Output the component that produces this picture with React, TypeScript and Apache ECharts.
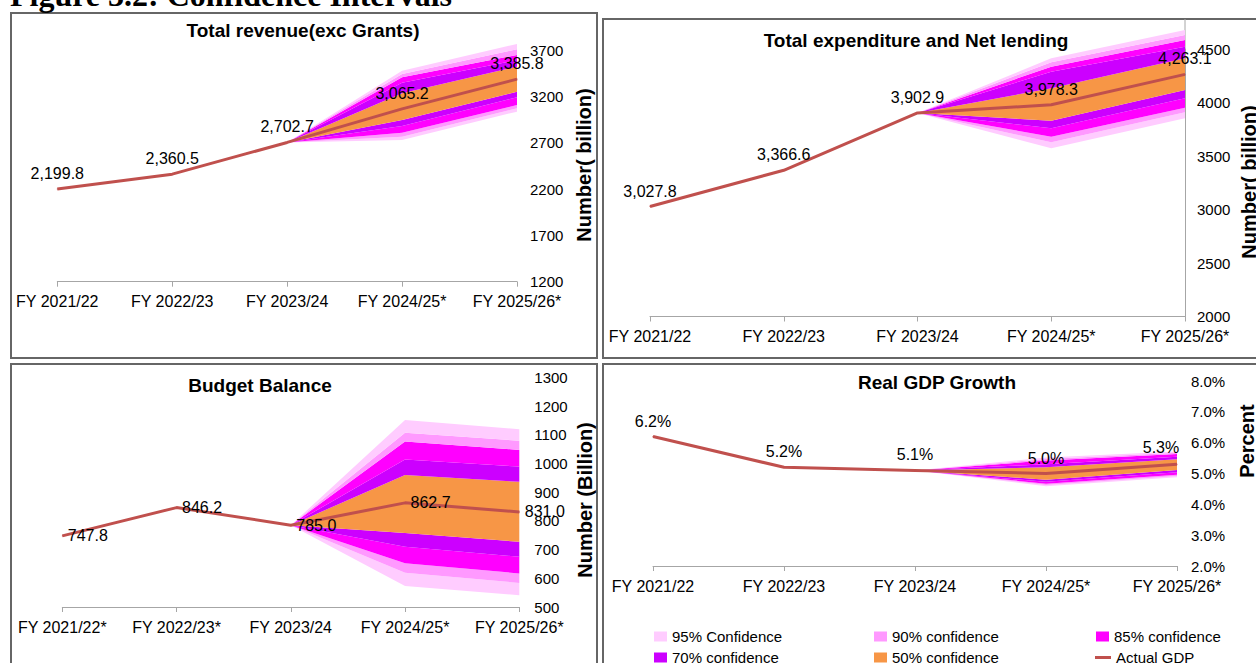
import React, { useEffect, useRef } from "react";
import * as echarts from "echarts";

// ---------- DATA ----------
const categoriesA = ["FY 2021/22", "FY 2022/23", "FY 2023/24", "FY 2024/25*", "FY 2025/26*"];
const categoriesB = ["FY 2021/22*", "FY 2022/23*", "FY 2023/24", "FY 2024/25*", "FY 2025/26*"];

const levelNames = ["95% Confidence", "90% confidence", "85% confidence", "70% confidence", "50% confidence"];
const levelColors = ["#ffccff", "#ff99ff", "#ff00ff", "#cc00ff", "#f79646"];

// Total revenue (exc Grants), billions
const revenueActual = [2199.8, 2360.5, 2702.7, 3065.2, 3385.8];
// lower / upper bounds per forecast year (FY2024/25*, FY2025/26*) for 95, 90, 85, 70, 50 %
const revenueLower = [
  [2729, 2765, 2808, 2880, 2945],
  [3035, 3071, 3107, 3190, 3250],
];
const revenueUpper = [
  [3477, 3441, 3405, 3347, 3233],
  [3765, 3707, 3646, 3592, 3520],
];

// Total expenditure and Net lending, billions
const expenditureActual = [3027.8, 3366.6, 3902.9, 3978.3, 4263.1];
const expenditureLower = [
  [3572, 3628, 3680, 3759, 3830],
  [3852, 3908, 3951, 4039, 4117],
];
const expenditureUpper = [
  [4413, 4376, 4335, 4288, 4133],
  [4678, 4631, 4584, 4522, 4413],
];

// Budget Balance, billions
const balanceActual = [747.8, 846.2, 785.0, 862.7, 831.0];
const balanceLower = [
  [573, 619, 652, 710, 758],
  [541, 584, 617, 675, 727],
];
const balanceUpper = [
  [1151, 1107, 1076, 1014, 960],
  [1119, 1079, 1047, 989, 936],
];

// Real GDP growth, percent
const gdpActual = [6.2, 5.2, 5.1, 5.0, 5.3];
const gdpLower = [
  [4.59, 4.63, 4.67, 4.73, 4.8],
  [4.88, 4.92, 4.96, 5.04, 5.11],
];
const gdpUpper = [
  [5.52, 5.47, 5.42, 5.3, 5.2],
  [5.71, 5.67, 5.63, 5.54, 5.46],
];

// ---------- STYLE ----------
const FONT = "'Liberation Sans', Arial, sans-serif";
const LINE_COLOR = "#c0504d";
const AXIS_GRAY = "#a6a6a6";

function fanSeries(idx: number, actual: number[], lower: number[][], upper: number[][]) {
  const anchor = actual[2];
  const lowAt = (j: number) => [null, null, anchor, lower[0][j], lower[1][j]];
  const upAt = (j: number) => [null, null, anchor, upper[0][j], upper[1][j]];
  const bounds = [lowAt(0), lowAt(1), lowAt(2), lowAt(3), lowAt(4), upAt(4), upAt(3), upAt(2), upAt(1), upAt(0)];
  const colorOrder = [0, 1, 2, 3, 4, 3, 2, 1, 0];
  const out: any[] = [
    {
      type: "line",
      name: "base" + idx,
      xAxisIndex: idx,
      yAxisIndex: idx,
      stack: "fan" + idx,
      stackStrategy: "all",
      data: bounds[0],
      symbol: "none",
      showSymbol: false,
      lineStyle: { width: 0, opacity: 0 },
      silent: true,
      clip: false,
      z: 1,
    },
  ];
  for (let i = 1; i < bounds.length; i++) {
    const c = colorOrder[i - 1];
    const diff = bounds[i].map((v, k) => (v === null ? null : (v as number) - (bounds[i - 1][k] as number)));
    out.push({
      type: "line",
      name: levelNames[c],
      xAxisIndex: idx,
      yAxisIndex: idx,
      stack: "fan" + idx,
      stackStrategy: "all",
      data: diff,
      symbol: "none",
      showSymbol: false,
      lineStyle: { width: 0, color: levelColors[c] },
      itemStyle: { color: levelColors[c] },
      areaStyle: { color: levelColors[c], opacity: 1 },
      silent: true,
      clip: false,
      z: 1,
    });
  }
  return out;
}

function actualSeries(idx: number, name: string, data: any[], label: any) {
  return {
    type: "line",
    name,
    xAxisIndex: idx,
    yAxisIndex: idx,
    data,
    symbol: "circle",
    symbolSize: 1,
    showSymbol: true,
    lineStyle: { color: LINE_COLOR, width: 3 },
    itemStyle: { color: LINE_COLOR },
    label: { show: true, fontSize: 16, color: "#000", fontFamily: FONT, ...label },
    clip: false,
    z: 3,
  };
}

const thousands = (p: any) =>
  Number(p.value).toLocaleString("en-US", { minimumFractionDigits: 1, maximumFractionDigits: 1 });

function xAxis(idx: number, data: string[]) {
  return {
    type: "category",
    gridIndex: idx,
    data,
    boundaryGap: false,
    axisLine: { show: true, onZero: false, lineStyle: { color: AXIS_GRAY, width: 1 } },
    axisTick: { show: true, length: 5, lineStyle: { color: AXIS_GRAY } },
    axisLabel: { interval: 0, fontSize: 16, color: "#000", margin: 12, fontFamily: FONT },
    splitLine: { show: false },
  };
}

const plain = (v: number) => String(v);

function yAxis(idx: number, min: number, max: number, interval: number, margin: number, showLine: boolean, formatter: any = plain) {
  return {
    type: "value",
    gridIndex: idx,
    position: "right",
    min,
    max,
    interval,
    axisLine: { show: showLine, lineStyle: { color: AXIS_GRAY } },
    axisTick: { show: false },
    splitLine: { show: false },
    axisLabel: { fontSize: 15, color: "#000", margin, fontFamily: FONT, formatter },
  };
}

function legendItem(name: string, left: number, top: number, isLine: boolean) {
  return {
    left,
    top,
    padding: 0,
    orient: "horizontal",
    selectedMode: false,
    itemWidth: isLine ? 16 : 13,
    itemHeight: isLine ? 3 : 10,
    itemStyle: { borderWidth: 0 },
    textStyle: { fontSize: 15, color: "#000", fontFamily: FONT },
    data: [{ name, icon: isLine ? "path://M0,0 H16 V3 H0 Z" : "rect" }],
  };
}

function text(t: string, x: number, y: number, font: string, rotation = 0) {
  return {
    type: "text",
    x,
    y,
    rotation,
    style: { text: t, font, fill: "#000", align: "center", verticalAlign: "middle" },
    z: 10,
  };
}

function border(x: number, y: number, w: number, h: number) {
  return {
    type: "rect",
    shape: { x, y, width: w, height: h },
    style: { fill: "none", stroke: "#666", lineWidth: 2 },
    silent: true,
  };
}

export default function App() {
  const ref = useRef<HTMLDivElement>(null);

  useEffect(() => {
    if (!ref.current) return;
    const chart = echarts.init(ref.current, undefined, { renderer: "svg" });

    const gdpData = gdpActual.map((v, i) =>
      i === gdpActual.length - 1 ? { value: v, label: { offset: [-16, -1] } } : v
    );

    const TITLE_FONT = `bold 19px ${FONT}`;
    const NAME_FONT = `bold 20px ${FONT}`;

    const option: any = {
      animation: false,
      backgroundColor: "#ffffff",
      textStyle: { fontFamily: FONT },
      grid: [
        { left: 57.3, top: 50, width: 459.7, height: 231.7 },
        { left: 650, top: 49, width: 535, height: 267.5 },
        { left: 62.3, top: 377.3, width: 457, height: 229.7 },
        { left: 653, top: 381, width: 524, height: 185 },
      ],
      xAxis: [xAxis(0, categoriesA), xAxis(1, categoriesA), xAxis(2, categoriesB), xAxis(3, categoriesA)],
      yAxis: [
        yAxis(0, 1200, 3700, 500, 13, false),
        yAxis(1, 2000, 4500, 500, 12, true),
        yAxis(2, 500, 1300, 100, 15, false),
        yAxis(3, 2, 8, 1, 14, false, (v: number) => v.toFixed(1) + "%"),
      ],
      legend: [
        legendItem(levelNames[0], 654, 629, false),
        legendItem(levelNames[1], 874, 629, false),
        legendItem(levelNames[2], 1096, 629, false),
        legendItem(levelNames[3], 654, 650, false),
        legendItem(levelNames[4], 874, 650, false),
        legendItem("Actual GDP", 1095, 650, true),
      ],
      series: [
        ...fanSeries(0, revenueActual, revenueLower, revenueUpper),
        actualSeries(0, "Total revenue", revenueActual, { position: "top", distance: 7, formatter: thousands }),
        ...fanSeries(1, expenditureActual, expenditureLower, expenditureUpper),
        actualSeries(1, "Total expenditure", expenditureActual, { position: "top", distance: 7, formatter: thousands }),
        ...fanSeries(2, balanceActual, balanceLower, balanceUpper),
        actualSeries(2, "Budget balance", balanceActual, {
          position: "right",
          distance: 5,
          formatter: (p: any) => Number(p.value).toFixed(1),
        }),
        ...fanSeries(3, gdpActual, gdpLower, gdpUpper),
        actualSeries(3, "Actual GDP", gdpData, {
          position: "top",
          distance: 7,
          formatter: (p: any) => Number(p.value).toFixed(1) + "%",
        }),
      ],
      graphic: [
        border(11, 13, 586, 345),
        border(603, 19, 700, 339),
        border(11, 364, 586, 320),
        border(603, 364, 700, 320),
        {
          type: "line",
          shape: { x1: 1185, y1: 19, x2: 1185, y2: 49 },
          style: { stroke: AXIS_GRAY, lineWidth: 1 },
          silent: true,
        },
        {
          type: "text",
          x: 10,
          y: -5,
          style: {
            text: "Figure 3.2: Confidence Intervals",
            font: "bold 32px 'Liberation Serif', 'Times New Roman', serif",
            fill: "#000",
            align: "left",
            verticalAlign: "middle",
          },
          z: 10,
        },
        text("Total revenue(exc Grants)", 303, 30.5, TITLE_FONT),
        text("Total expenditure and Net lending", 916, 40, TITLE_FONT),
        text("Budget Balance", 260, 385, TITLE_FONT),
        text("Real GDP Growth", 937, 382, TITLE_FONT),
        text("Number( billion)", 583.5, 165, NAME_FONT, Math.PI / 2),
        text("Number( billion)", 1249, 182, NAME_FONT, Math.PI / 2),
        text("Number (Billion)", 585, 500, NAME_FONT, Math.PI / 2),
        text("Percent", 1247, 441, NAME_FONT, Math.PI / 2),
      ],
    };

    chart.setOption(option);
    return () => {
      chart.dispose();
    };
  }, []);

  return (
    <div
      ref={ref}
      style={{ position: "absolute", left: 0, top: 0, width: 1256, height: 663, background: "#fff" }}
    />
  );
}
